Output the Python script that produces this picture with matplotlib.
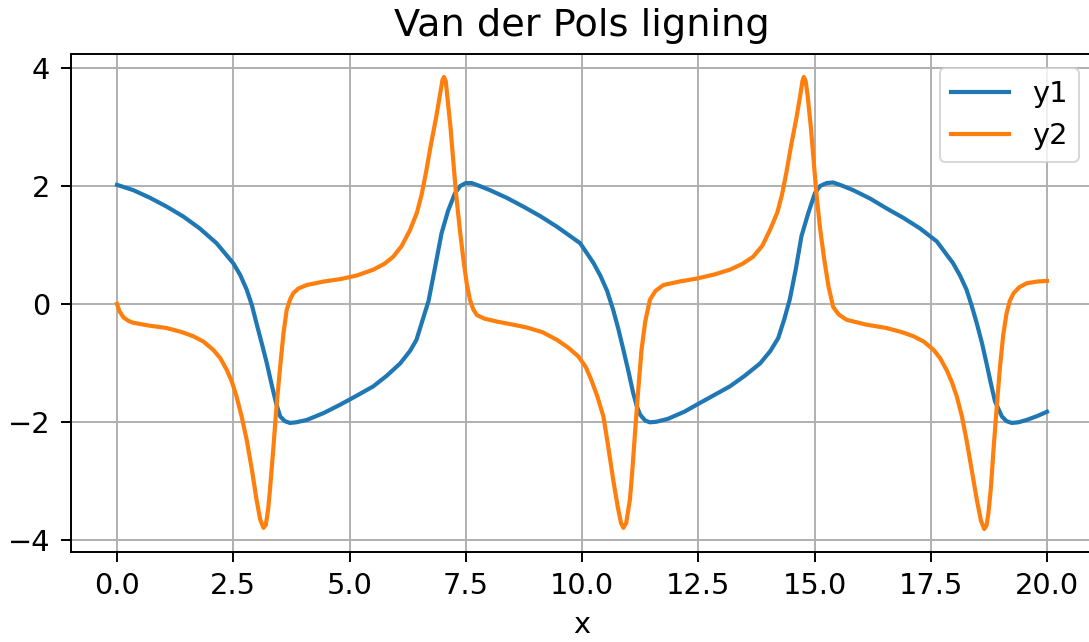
import matplotlib
matplotlib.use("Agg")
import matplotlib.pyplot as plt

# ---- data ----
t_y1 = [0.00, 0.35, 0.71, 1.07, 1.43, 1.78, 2.14, 2.50, 2.65, 2.79, 2.90, 3.00,
        3.11, 3.22, 3.32, 3.42, 3.51, 3.61, 3.72, 3.85, 4.08, 4.45, 4.80, 5.15,
        5.51, 5.80, 6.09, 6.30, 6.44, 6.57, 6.70, 6.84, 6.98, 7.12, 7.27, 7.38,
        7.50, 7.63, 7.80, 8.02, 8.38, 8.74, 9.10, 9.46, 9.96, 10.25, 10.40,
        10.54, 10.67, 10.78, 10.89, 11.00, 11.10, 11.18, 11.25, 11.36, 11.46,
        11.60, 11.85, 12.20, 12.47, 13.18, 13.50, 13.83, 14.05, 14.22, 14.35,
        14.47, 14.60, 14.72, 14.87, 15.01, 15.12, 15.26, 15.40, 15.58, 15.83,
        16.19, 16.55, 16.91, 17.27, 17.63, 17.98, 18.13, 18.27, 18.38, 18.49,
        18.60, 18.70, 18.79, 18.88, 19.03, 19.13, 19.24, 19.38, 19.56, 19.80,
        20.00]
y1 = [2.02, 1.93, 1.80, 1.65, 1.48, 1.28, 1.03, 0.69, 0.49, 0.24, -0.02, -0.33,
      -0.66, -1.00, -1.35, -1.68, -1.91, -1.99, -2.02, -2.01, -1.97, -1.85, -1.71, -1.56,
      -1.40, -1.22, -1.01, -0.80, -0.61, -0.28, 0.05, 0.62, 1.20, 1.58, 1.88, 2.00,
      2.05, 2.05, 2.00, 1.93, 1.80, 1.65, 1.49, 1.31, 1.03, 0.69, 0.47,
      0.22, -0.10, -0.42, -0.78, -1.15, -1.51, -1.74, -1.88, -1.98, -2.01,
      -2.00, -1.95, -1.83, -1.71, -1.40, -1.22, -1.01, -0.80, -0.58, -0.26,
      0.08, 0.60, 1.15, 1.55, 1.88, 2.00, 2.05, 2.06, 2.01, 1.93,
      1.79, 1.62, 1.46, 1.28, 1.06, 0.69, 0.48, 0.24, -0.03, -0.33,
      -0.66, -1.01, -1.34, -1.65, -1.91, -1.99, -2.02, -2.01, -1.97, -1.90,
      -1.83]

t_y2 = [0.00, 0.05, 0.14, 0.25, 0.35, 0.70, 1.07, 1.40, 1.64, 1.86, 2.07, 2.22,
        2.36, 2.47, 2.57, 2.68, 2.79, 2.90, 3.00, 3.08, 3.15, 3.20, 3.25, 3.29,
        3.36, 3.43, 3.51, 3.58, 3.65, 3.72, 3.79, 3.90, 4.08, 4.45, 4.80, 5.15,
        5.51, 5.75, 5.94, 6.12, 6.30, 6.45, 6.55, 6.65, 6.75, 6.86, 6.95, 7.00,
        7.03, 7.07, 7.10, 7.17, 7.23, 7.29, 7.37, 7.45, 7.52, 7.59, 7.66, 7.74,
        7.90, 8.17, 8.50, 8.81, 9.15, 9.46, 9.70, 9.92, 10.08, 10.20, 10.33,
        10.46, 10.56, 10.67, 10.77, 10.84, 10.89, 10.95, 11.03, 11.08, 11.14,
        11.21, 11.28, 11.36, 11.46, 11.58, 11.75, 12.10, 12.47, 12.85, 13.18,
        13.45, 13.68, 13.88, 14.04, 14.20, 14.30, 14.40, 14.50, 14.61, 14.70,
        14.74, 14.77, 14.81, 14.85, 14.92, 14.98, 15.04, 15.12, 15.21, 15.30,
        15.40, 15.52, 15.69, 16.10, 16.55, 16.88, 17.13, 17.35, 17.56, 17.70,
        17.84, 17.95, 18.06, 18.17, 18.27, 18.38, 18.49, 18.58, 18.65, 18.70,
        18.74, 18.79, 18.85, 18.92, 18.99, 19.06, 19.13, 19.20, 19.28, 19.40,
        19.56, 19.80, 20.00]
y2 = [0.00, -0.12, -0.23, -0.29, -0.32, -0.37, -0.41, -0.48, -0.55, -0.64, -0.78, -0.92,
      -1.12, -1.32, -1.57, -1.91, -2.31, -2.81, -3.32, -3.66, -3.80, -3.75, -3.49, -3.15,
      -2.47, -1.74, -1.06, -0.50, -0.10, 0.07, 0.18, 0.26, 0.32, 0.38, 0.42, 0.48,
      0.58, 0.68, 0.80, 0.98, 1.25, 1.55, 1.85, 2.25, 2.70, 3.15, 3.57, 3.80,
      3.85, 3.78, 3.55, 3.01, 2.45, 1.88, 1.28, 0.75, 0.35, 0.07, -0.09, -0.19,
      -0.25, -0.30, -0.35, -0.40, -0.48, -0.61, -0.74, -0.89, -1.07, -1.29, -1.57,
      -1.91, -2.40, -2.98, -3.45, -3.72, -3.80, -3.72, -3.32, -2.85, -2.19,
      -1.45, -0.78, -0.30, 0.07, 0.22, 0.32, 0.38, 0.43, 0.50, 0.58,
      0.68, 0.80, 0.99, 1.25, 1.55, 1.85, 2.25, 2.70, 3.15, 3.57,
      3.78, 3.85, 3.78, 3.55, 3.01, 2.45, 1.88, 1.28, 0.75, 0.30,
      -0.05, -0.18, -0.27, -0.35, -0.41, -0.48, -0.55, -0.64, -0.78, -0.92,
      -1.12, -1.32, -1.57, -1.91, -2.31, -2.81, -3.32, -3.68, -3.82, -3.76,
      -3.55, -3.15, -2.47, -1.74, -1.06, -0.52, -0.16, 0.05, 0.18, 0.28,
      0.35, 0.38, 0.39]

x_ticks = [0.0, 2.5, 5.0, 7.5, 10.0, 12.5, 15.0, 17.5, 20.0]
y_ticks = [-4, -2, 0, 2, 4]
series_labels = ["y1", "y2"]
title = "Van der Pols ligning"
xlabel = "x"

# ---- drawing ----
fig = plt.figure(figsize=(10.89, 6.42), dpi=100)
ax = fig.add_axes([70.5 / 1089, 90 / 642, 1023 / 1089, 498 / 642])

lw = 3.0
ax.plot(t_y1, y1, color="#1f77b4", lw=lw, label=series_labels[0],
        solid_joinstyle="round")
ax.plot(t_y2, y2, color="#ff7f0e", lw=lw, label=series_labels[1],
        solid_joinstyle="round")

ax.set_xlim(-1, 21)
ax.set_ylim(-4.21, 4.24)
ax.set_xticks(x_ticks)
ax.set_xticklabels([f"{v:.1f}" for v in x_ticks])
ax.set_yticks(y_ticks)

ax.grid(True, color="#b0b0b0", lw=1.4)
ax.set_axisbelow(True)
for s in ax.spines.values():
    s.set_linewidth(1.4)
ax.tick_params(labelsize=20.8, length=7.3, width=1.4, pad=7.3)

ax.set_title(title, fontsize=27.5, pad=13)
ax.set_xlabel(xlabel, fontsize=20.8, labelpad=8)

leg = ax.legend(loc="upper right", fontsize=20.8, framealpha=0.8,
                borderaxespad=0.5, handlelength=2.0)
leg.get_frame().set_linewidth(1.4)

fig.savefig("out.png", dpi=100)
